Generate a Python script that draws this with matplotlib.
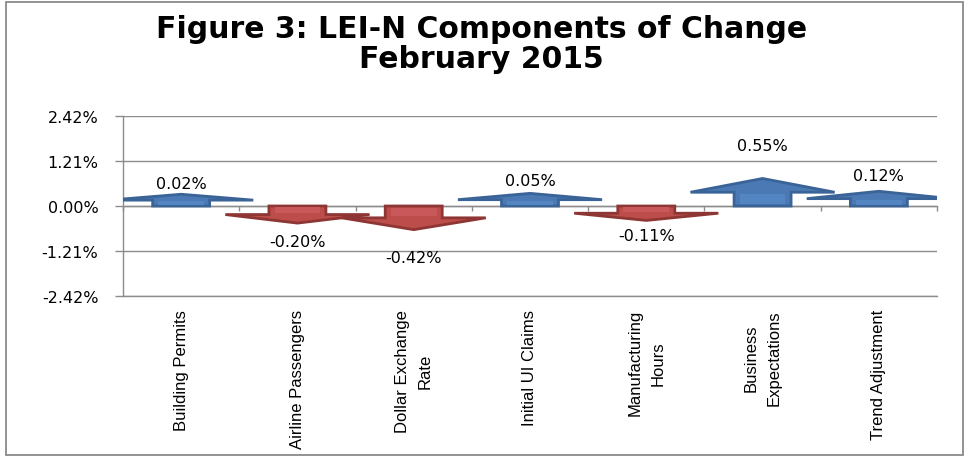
import matplotlib
matplotlib.use("Agg")
import matplotlib.pyplot as plt
from matplotlib.patches import Polygon, Rectangle

# values (percent change)
categories = ["Building Permits", "Airline Passengers", "Dollar Exchange\nRate",
              "Initial UI Claims", "Manufacturing\nHours", "Business\nExpectations",
              "Trend Adjustment"]
values = [0.02, -0.20, -0.42, 0.05, -0.11, 0.55, 0.12]
y_ticks = [-2.42, -1.21, 0.00, 1.21, 2.42]

title_line1 = "Figure 3: LEI-N Components of Change"
title_line2 = "February 2015"

up_face, up_edge, up_inner = "#4A79B3", "#3A6397", "#5285C2"
down_face, down_edge, down_inner = "#BC4D4A", "#8E3633", "#C9585A"
grid_gray = "#8C8C8C"

W, H = 969, 460
fig = plt.figure(figsize=(W / 100, H / 100), dpi=100)
ax = fig.add_axes([123 / W, 1 - 297 / H, (937 - 123) / W, (297 - 117) / H])

ax.set_xlim(-0.5, len(categories) - 0.5)
ax.set_ylim(y_ticks[0], y_ticks[-1])

# arrow shapes: stem plus wide head, length grows with the value
head_hw = 0.62
stem_hw = 0.245
for i, v in enumerate(values):
    sign = 1 if v >= 0 else -1
    length = 0.3 + 0.8 * abs(v)
    s = sign * length * 0.5
    tip = sign * length
    pts = [(i - stem_hw, 0), (i - stem_hw, s), (i - head_hw, s), (i, tip),
           (i + head_hw, s), (i + stem_hw, s), (i + stem_hw, 0)]
    fc, ec, inner = (up_face, up_edge, up_inner) if v >= 0 else (down_face, down_edge, down_inner)
    ax.add_patch(Polygon(pts, closed=True, facecolor=fc, edgecolor=ec,
                         linewidth=2.0, joinstyle="miter", zorder=3))
    # lighter inside of the stem
    ax.add_patch(Rectangle((i - stem_hw * 0.8, s * 0.15), 2 * stem_hw * 0.8, s * 0.7,
                           facecolor=inner, edgecolor="none", zorder=3.5))
    label_y = sign * (0.58 + 1.9 * abs(v))
    ax.text(i, label_y, f"{v:.2f}%", ha="center", va="center",
            fontsize=11.5, family="DejaVu Sans", zorder=4)

# y axis and gridlines
ax.set_yticks(y_ticks)
ax.set_yticklabels([f"{t:.2f}%" for t in y_ticks], fontsize=11.5, family="DejaVu Sans")
ax.tick_params(axis="y", direction="out", length=5.8, width=1.0, color=grid_gray, pad=12)
ax.grid(axis="y", color=grid_gray, linewidth=1.0, zorder=0)
ax.set_axisbelow(True)

# category labels under the plot
ax.set_xticks(range(len(categories)))
ax.set_xticklabels(categories, rotation=90, fontsize=12,
                   family="Liberation Sans", linespacing=1.65)
for lab in ax.get_xticklabels():
    lab.set_multialignment("center")
ax.tick_params(axis="x", length=0, pad=9.5)

for side in ["top", "right"]:
    ax.spines[side].set_visible(False)
ax.spines["left"].set_color(grid_gray)
ax.spines["left"].set_linewidth(1.0)
ax.spines["bottom"].set_color(grid_gray)
ax.spines["bottom"].set_linewidth(1.0)

# category axis running through zero with boundary ticks
zero_ax = ax.secondary_xaxis(0, transform=ax.transData)
zero_ax.set_xticks([k - 0.5 for k in range(len(categories) + 1)])
zero_ax.set_xticklabels([])
zero_ax.tick_params(direction="out", length=3.6, width=1.0, color=grid_gray)
zero_ax.spines["bottom"].set_color(grid_gray)
zero_ax.spines["bottom"].set_linewidth(1.0)

fig.text(0.497, 1 - 38 / H, title_line1, ha="center", va="baseline",
         fontsize=21.5, fontweight="bold", family="DejaVu Sans")
fig.text(0.497, 1 - 68 / H, title_line2, ha="center", va="baseline",
         fontsize=21.5, fontweight="bold", family="DejaVu Sans")

fig.patches.append(Rectangle((6 / W, 4 / H), (963 - 6) / W, (457 - 4) / H,
                             transform=fig.transFigure, fill=False,
                             edgecolor="#8A8A8A", linewidth=1.3))

fig.savefig("out.png", dpi=100)
